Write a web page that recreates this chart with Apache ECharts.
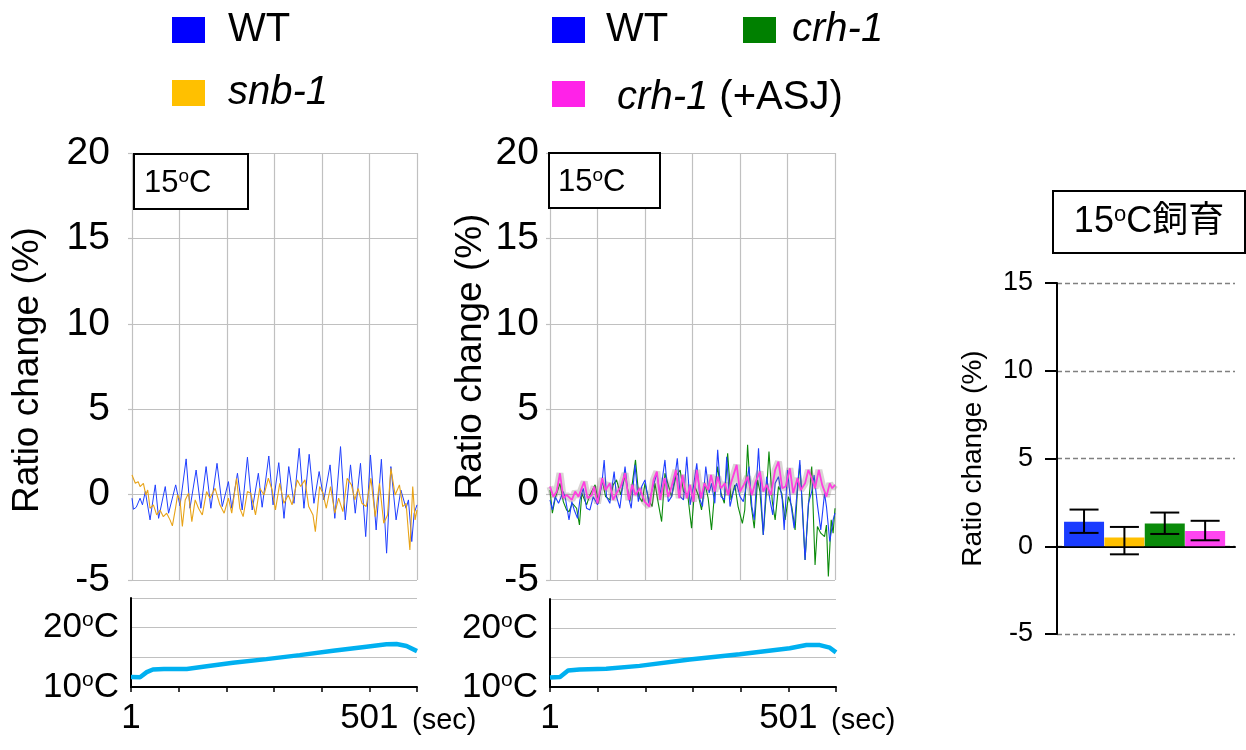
<!DOCTYPE html>
<html><head><meta charset="utf-8">
<script src="https://cdn.jsdelivr.net/npm/echarts/dist/echarts.min.js"></script>
<style>html,body{margin:0;padding:0;background:#fff}#c{width:1246px;height:750px}</style>
</head><body><div id="c"></div>
<script>
// ---------- data (time in sec, ratio change in %) ----------
const ratioTicks = [-5, 0, 5, 10, 15, 20];
const timeTickLabels = ['1', '501'];
const tempTickLabels = [10, 20];

const leftWT = [[1,-0.21],[4,-0.86],[10,-0.74],[18,-0.21],[23,-0.6],[29,0.18],[39,-1.48],[50,0.57],[57,-1.39],[71,0.47],[78,-1.09],[93,0.57],[102,-0.66],[115,2.09],[123,-0.8],[136,1.44],[146,-0.8],[157,1.64],[167,-0.8],[180,1.83],[191,-0.7],[204,0.76],[211,-0.8],[223,1.25],[233,-0.9],[244,2.19],[254,-0.9],[267,1.25],[275,-0.74],[289,2.26],[298,-0.6],[310,1.87],[321,-1.39],[331,1.64],[342,-0.51],[353,2.71],[363,-0.8],[374,2.36],[384,-0.51],[395,1.35],[405,-0.31],[418,1.74],[428,-1.39],[440,2.81],[450,-1.48],[461,1.74],[471,-1.09],[482,1.83],[493,-2.46],[503,2.32],[515,-2.07],[526,2.07],[537,-3.43],[546,1.64],[557,-1.48],[567,0.27],[578,-0.8],[583,-0.31],[590,-2.75],[595,-1.09],[601,-0.6]];

const leftSnb1 = [[1,1.15],[8,0.66],[14,0.76],[18,0.47],[25,0.66],[30,-0.02],[34,0.27],[39,-0.8],[46,-0.6],[53,-1.19],[60,-0.9],[67,-1.29],[74,-1.09],[81,-1.48],[86,-1.83],[92,-0.9],[97,-0.02],[102,-0.31],[107,-1.87],[113,-0.31],[120,0.08],[127,-1.58],[134,-0.31],[141,-0.8],[149,-1.19],[158,0.18],[165,-0.21],[176,0.37],[186,-0.6],[195,-1.09],[204,-0.21],[211,-1.09],[221,0.96],[228,-0.8],[235,-1.29],[244,0.18],[251,0.08],[261,-1.19],[270,0.37],[279,-0.02],[288,0.96],[296,0.27],[303,-0.9],[312,0.66],[321,-0.51],[330,-0.02],[338,-0.6],[349,0.86],[356,0.47],[365,0.86],[373,-0.7],[382,-1.19],[387,-2.17],[396,0.47],[403,0.08],[410,-0.8],[419,0.47],[428,-1.09],[436,-0.21],[445,-1.0],[454,0.96],[463,0.57],[470,-0.31],[477,0.37],[485,-0.51],[494,-0.7],[504,0.96],[513,-1.29],[522,0.66],[531,-1.68],[539,-1.19],[546,1.54],[555,-0.02],[564,0.57],[571,-0.7],[578,-0.51],[586,-3.24],[592,0.47],[597,-1.48],[601,-0.9]];

const midWT = [[1,-0.31],[6,-0.9],[12,-0.12],[19,-0.51],[29,0.18],[34,-0.31],[41,-1.48],[47,-0.41],[52,-0.9],[59,-1.39],[64,-0.31],[71,0.37],[78,-0.8],[85,-0.9],[92,-0.12],[101,-0.6],[110,0.57],[115,2.03],[120,-0.12],[127,-0.51],[136,1.35],[141,-0.12],[148,-0.8],[159,1.64],[166,-0.12],[172,-0.8],[180,1.74],[187,-0.41],[194,0.47],[201,0.86],[209,-0.51],[216,0.27],[226,1.25],[233,-0.02],[243,2.03],[250,-0.41],[257,-0.12],[264,1.05],[269,2.13],[275,-0.12],[282,-0.31],[289,2.22],[296,-0.6],[303,0.47],[310,1.83],[317,-0.31],[322,-0.7],[329,1.64],[336,0.08],[341,0.66],[348,-0.51],[354,2.62],[361,-0.12],[368,-0.31],[373,2.22],[380,-0.7],[387,0.18],[394,0.66],[401,-0.12],[408,-0.41],[415,0.66],[420,1.64],[426,-0.7],[431,-1.48],[440,2.71],[447,-0.9],[450,-2.36],[457,1.05],[464,-0.31],[470,-1.19],[475,0.66],[482,1.05],[490,-0.31],[494,-2.07],[501,1.44],[508,-0.51],[515,-1.97],[522,0.47],[527,2.03],[532,-0.7],[538,-3.83],[545,-0.51],[552,0.18],[557,1.15],[564,-0.6],[571,-2.07],[579,0.08],[583,-0.7],[590,-2.75],[597,-1.48],[601,-1.09]];

const midCrh1 = [[1,0.27],[6,-1.09],[12,-0.21],[22,0.66],[29,-0.41],[36,-0.9],[41,-1.0],[48,-0.51],[57,-0.8],[63,-1.78],[68,0.08],[78,-0.6],[85,-0.02],[96,0.57],[103,-0.51],[111,0.86],[118,-0.12],[127,-0.31],[134,0.57],[141,0.86],[150,-0.02],[159,1.15],[169,-0.41],[181,2.03],[188,-0.12],[195,-0.41],[201,0.66],[209,-0.31],[216,-0.7],[222,0.66],[229,-0.51],[236,-1.58],[243,1.25],[252,0.37],[257,-0.12],[266,1.05],[275,1.44],[282,0.18],[291,-0.02],[299,-1.97],[306,0.47],[313,-0.02],[320,-0.9],[327,0.66],[334,-0.21],[341,-2.07],[348,0.27],[354,1.64],[361,0.08],[368,-0.51],[375,2.42],[382,-0.31],[390,0.57],[397,-0.7],[406,-1.68],[411,-0.9],[417,2.91],[424,-0.51],[431,-1.97],[438,0.86],[443,0.18],[450,-2.36],[457,0.27],[462,2.52],[469,-0.41],[475,-1.48],[482,0.47],[489,0.08],[496,-1.48],[503,-0.12],[510,-0.7],[517,-2.07],[522,0.27],[527,1.74],[532,-0.51],[538,-3.83],[545,-0.7],[552,1.64],[559,-4.12],[564,-1.87],[571,-2.26],[579,-2.46],[583,-1.78],[587,-4.8],[593,-1.48],[597,-2.26],[601,-0.8]];

const midCrh1ASJ = [[1,0.47],[8,-0.12],[15,0.18],[22,1.25],[29,-0.21],[36,-0.02],[47,-0.31],[54,0.18],[61,-0.12],[73,0.76],[80,-0.21],[89,-0.02],[94,0.47],[101,-0.51],[111,0.96],[118,0.27],[127,0.66],[134,-0.31],[141,0.08],[150,0.47],[159,1.25],[167,-0.31],[174,0.57],[181,-0.02],[190,0.37],[200,-0.41],[210,-0.7],[219,0.86],[226,1.35],[233,-0.31],[242,0.96],[250,-0.12],[257,0.47],[266,1.44],[273,-0.21],[280,1.15],[289,-0.21],[296,0.57],[303,-0.41],[310,1.44],[319,-0.21],[326,0.66],[334,0.27],[340,1.15],[348,0.18],[354,1.05],[361,0.37],[369,0.66],[376,-0.02],[383,0.76],[394,1.74],[401,0.18],[409,0.57],[417,1.05],[426,-0.02],[434,0.76],[443,1.35],[450,0.18],[457,0.57],[466,-0.02],[475,1.44],[482,1.93],[490,0.37],[497,0.47],[506,1.54],[513,0.08],[522,0.96],[529,0.27],[538,0.66],[545,1.44],[552,0.96],[559,0.37],[567,1.44],[574,0.57],[583,-0.12],[590,0.66],[595,0.37],[601,0.57]];

const leftTemp = [[1,11.7],[20,11.65],[34,12.5],[47,12.95],[70,13.05],[118,13.05],[160,13.5],[215,14.07],[285,14.7],[355,15.37],[425,16.1],[495,16.8],[537,17.2],[558,17.25],[579,16.9],[601,16.05]];
const midTemp = [[1,11.6],[22,11.7],[39,12.8],[63,13.0],[119,13.1],[189,13.6],[294,14.7],[399,15.6],[504,16.6],[539,17.15],[567,17.15],[588,16.7],[601,15.9]];

const barNames = ['WT', 'snb-1', 'crh-1', 'crh-1 (+ASJ)'];
const barValues = [1.4, 0.5, 1.3, 0.87];
const errLow = [0.76, -0.46, 0.7, 0.34];
const errHigh = [2.09, 1.1, 1.92, 1.45];
const barTicks = [-5, 0, 5, 10, 15];

// ---------- styles ----------
const FONT = '"Liberation Sans", Arial, "Noto Sans CJK JP", sans-serif';
const GRID_C = '#c0c0c0';
const barColors = ['#1a3cff', '#ffc000', '#0a8a0a', '#ff45f0'];

const chart = echarts.init(document.getElementById('c'));

function mainX(gi) {
  return { gridIndex: gi, type: 'value', min: 1, max: 601, interval: 100,
    axisLine: { show: false }, axisTick: { show: false }, axisLabel: { show: false },
    splitLine: { show: true, lineStyle: { color: GRID_C, width: 1.2 } } };
}
function tempX(gi) {
  return { gridIndex: gi, type: 'value', min: 1, max: 601, interval: 100,
    axisLine: { show: true, onZero: false, lineStyle: { color: '#000', width: 2 } },
    axisTick: { show: true, length: 5, lineStyle: { color: '#000', width: 1.5 } },
    axisLabel: { show: true, fontSize: 35, color: '#000', margin: 14, fontFamily: FONT,
      formatter: v => timeTickLabels.indexOf(String(v)) >= 0 ? String(v) : '' },
    splitLine: { show: false },
    name: '(sec)', nameLocation: 'end', nameGap: -5,
    nameTextStyle: { fontSize: 29, color: '#000', align: 'left', verticalAlign: 'top', padding: [19, 0, 0, 0], fontFamily: FONT } };
}
function mainY(gi, margin, gap, pad) {
  return { gridIndex: gi, type: 'value', min: -5, max: 20, interval: 5,
    axisLine: { show: false, onZero: false },
    axisTick: { show: true, length: 4, lineStyle: { color: GRID_C, width: 1.2 } },
    axisLabel: { fontSize: 39, color: '#000', margin: margin, fontFamily: FONT,
      formatter: v => ratioTicks.indexOf(v) >= 0 ? String(v) : '' },
    splitLine: { show: true, lineStyle: { color: GRID_C, width: 1.2 } },
    name: 'Ratio change (%)', nameLocation: 'middle', nameGap: gap, nameMoveOverlap: false,
    nameTextStyle: { fontSize: 37, color: '#000', fontFamily: FONT, padding: pad } };
}
function tempY(gi) {
  return { gridIndex: gi, type: 'value', min: 10, max: 25, interval: 5,
    axisLine: { show: true, onZero: false, lineStyle: { color: '#000', width: 2 } },
    axisTick: { show: false },
    axisLabel: { margin: 12, color: '#000',
      formatter: v => tempTickLabels.indexOf(v) >= 0 ? '{n|' + v + '}{s|o}{n|C}' : '',
      rich: { n: { fontSize: 35, fontFamily: FONT, color: '#000' },
              s: { fontSize: 21, fontFamily: FONT, color: '#000', verticalAlign: 'top' } } },
    splitLine: { show: true, lineStyle: { color: GRID_C, width: 1.2 } } };
}
function line(name, data, xi, color, width, extra) {
  return Object.assign({ type: 'line', name: name, data: data, xAxisIndex: xi, yAxisIndex: xi,
    symbol: 'none', showSymbol: false, color: color, silent: true,
    lineStyle: { color: color, width: width } }, extra || {});
}
const legendText = (pad) => ({ fontSize: 40, fontFamily: FONT, color: '#000', lineHeight: 44, padding: pad,
  rich: { i: { fontSize: 40, fontStyle: 'italic', fontFamily: FONT, color: '#000' },
          r: { fontSize: 40, fontFamily: FONT, color: '#000' } } });
const legendFmt = n => n === 'WT' ? n : (n === 'crh-1 (+ASJ)' ? ' {i|crh-1}{r| (+ASJ)}' : '{i|' + n + '}');
const legendBase = { icon: 'rect', itemWidth: 33, itemHeight: 26, selectedMode: false, padding: 0, formatter: legendFmt };

function supText(main, size, supSize) {
  return { text: '{n|' + main[0] + '}{s|o}{n|' + main[1] + '}',
    rich: { n: { fontSize: size, fontFamily: FONT, fill: '#000' },
            s: { fontSize: supSize, fontFamily: FONT, fill: '#000', verticalAlign: 'top' } } };
}

const option = {
  animation: false,
  textStyle: { fontFamily: FONT, color: '#000' },
  grid: [
    { left: 132, top: 153, width: 285, height: 427 },
    { left: 131, top: 598, width: 286, height: 89 },
    { left: 550, top: 153, width: 285, height: 427 },
    { left: 550, top: 599, width: 286, height: 88 },
    { left: 1057, top: 283, width: 178, height: 351 }
  ],
  xAxis: [mainX(0), tempX(1), mainX(2), tempX(3),
    { gridIndex: 4, type: 'value', min: -0.17, max: 4.24,
      axisLine: { show: true, onZero: true, lineStyle: { color: '#000', width: 2 } },
      axisTick: { show: false }, axisLabel: { show: false }, splitLine: { show: false } }],
  yAxis: [mainY(0, 22, 86, [0, 7, 0, 0]), tempY(1), mainY(2, 11, 61, [0, 0, 0, 20]), tempY(3),
    { gridIndex: 4, type: 'value', min: -5, max: 15, interval: 5,
      axisLine: { show: true, onZero: false, lineStyle: { color: '#000', width: 2 } },
      axisTick: { show: true, length: 12, lineStyle: { color: '#000', width: 2 } },
      axisLabel: { fontSize: 27, color: '#000', margin: 24, fontFamily: FONT,
        formatter: v => barTicks.indexOf(v) >= 0 ? String(v) : '' },
      splitLine: { show: true, lineStyle: { color: '#808080', width: 1.3, type: [5, 3] } },
      name: 'Ratio change (%)', nameLocation: 'middle', nameGap: 70, nameMoveOverlap: false,
      nameTextStyle: { fontSize: 28, color: '#000', fontFamily: FONT } }],
  legend: [
    Object.assign({}, legendBase, { orient: 'vertical', left: 172, top: 8, itemGap: 19,
      data: [{ name: 'WT', itemStyle: { color: '#0000ff' } }, { name: 'snb-1', itemStyle: { color: '#ffc000' } }],
      textStyle: legendText([0, 0, 0, 18]) }),
    Object.assign({}, legendBase, { left: 552, top: 8,
      data: [{ name: 'WT', itemStyle: { color: '#0000ff' } }], textStyle: legendText([0, 0, 0, 16]) }),
    Object.assign({}, legendBase, { left: 743, top: 8,
      data: [{ name: 'crh-1', itemStyle: { color: '#008000' } }], textStyle: legendText([0, 0, 0, 11]) }),
    Object.assign({}, legendBase, { left: 552, top: 68,
      data: [{ name: 'crh-1 (+ASJ)', itemStyle: { color: '#ff22e8' } }], textStyle: legendText([8, 0, 0, 16]) })
  ],
  series: [
    line('WT', leftWT, 0, '#1f3fff', 1),
    line('snb-1', leftSnb1, 0, '#e8a317', 1.1),
    line('temp-left', leftTemp, 1, '#00b0f0', 4.5),
    line('crh-1', midCrh1, 2, '#0a8a0a', 1.1),
    line('WT', midWT, 2, '#1f3fff', 1.1),
    line('crh-1 (+ASJ) SEM', midCrh1ASJ, 2, 'rgba(120,100,100,0.28)', 7),
    line('crh-1 (+ASJ)', midCrh1ASJ, 2, '#ff3fe0', 1.8),
    line('temp-mid', midTemp, 3, '#00b0f0', 4.5),
    { type: 'bar', name: 'mean', xAxisIndex: 4, yAxisIndex: 4, barWidth: 40, silent: true,
      data: barValues.map((v, i) => ({ name: barNames[i], value: [i + 0.5, v], itemStyle: { color: barColors[i] } })) },
    { type: 'custom', name: 'sem', xAxisIndex: 4, yAxisIndex: 4, silent: true, z: 5,
      data: barNames.map((n, i) => [i + 0.5, errLow[i], errHigh[i]]),
      encode: { x: 0, y: [1, 2] },
      renderItem: (params, api) => {
        const x = api.value(0), lo = api.value(1), hi = api.value(2);
        const a = api.coord([x, hi]), b = api.coord([x, lo]);
        const hw = 14.5, st = { stroke: '#000', lineWidth: 2 };
        return { type: 'group', children: [
          { type: 'line', shape: { x1: a[0], y1: a[1], x2: b[0], y2: b[1] }, style: st },
          { type: 'line', shape: { x1: a[0] - hw, y1: a[1], x2: a[0] + hw, y2: a[1] }, style: st },
          { type: 'line', shape: { x1: b[0] - hw, y1: b[1], x2: b[0] + hw, y2: b[1] }, style: st }
        ] };
      } }
  ],
  graphic: [
    { type: 'rect', z: 50, shape: { x: 134, y: 154, width: 114, height: 55 }, style: { fill: '#fff', stroke: '#000', lineWidth: 2 } },
    { type: 'text', z: 51, x: 144, y: 183, style: Object.assign(supText(['15', 'C'], 31, 19), { verticalAlign: 'middle', align: 'left' }) },
    { type: 'rect', z: 50, shape: { x: 549, y: 153, width: 111, height: 55 }, style: { fill: '#fff', stroke: '#000', lineWidth: 2 } },
    { type: 'text', z: 51, x: 558, y: 182, style: Object.assign(supText(['15', 'C'], 31, 19), { verticalAlign: 'middle', align: 'left' }) },
    { type: 'rect', z: 50, shape: { x: 1053, y: 191, width: 192, height: 62 }, style: { fill: '#fff', stroke: '#000', lineWidth: 2 } },
    { type: 'text', z: 51, x: 1149, y: 222, style: Object.assign(supText(['15', 'C飼育'], 36, 22), { verticalAlign: 'middle', align: 'center' }) }
  ]
};
chart.setOption(option);
</script>
</body></html>
